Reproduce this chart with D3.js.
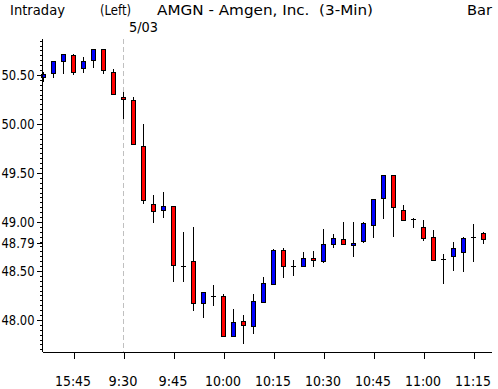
<!DOCTYPE html>
<html>
<head>
<meta charset="utf-8">
<script src="https://cdn.jsdelivr.net/npm/d3@7"></script>
<style>
  html, body { margin: 0; padding: 0; background: #fff; }
  svg { display: block; }
  text { font-family: "DejaVu Sans", sans-serif; fill: #000; }
</style>
</head>
<body>
<svg id="chart" width="498" height="389"></svg>
<script>
// ---- data ----
const times = ["15:36","15:39","15:42","15:45","15:48","15:51","15:54","15:57",
  "9:30","9:33","9:36","9:39","9:42","9:45","9:48","9:51","9:54","9:57",
  "10:00","10:03","10:06","10:09","10:12","10:15","10:18","10:21","10:24","10:27",
  "10:30","10:33","10:36","10:39","10:42","10:45","10:48","10:51","10:54","10:57",
  "11:00","11:03","11:06","11:09","11:12","11:15","11:18"];
const open  = [50.48,50.52,50.64,50.70,50.57,50.65,50.76,50.53,50.28,50.24,49.78,49.18,49.12,49.16,48.55,48.60,48.17,48.24,48.24,47.84,47.99,47.94,48.18,48.37,48.71,48.55,48.55,48.63,48.60,48.78,48.83,48.76,48.81,48.97,49.24,49.48,49.12,49.03,48.95,48.85,48.62,48.65,48.69,48.85,48.89];
const high  = [50.53,50.64,50.71,50.71,50.68,50.77,50.77,50.56,50.33,50.28,50.00,49.27,49.31,49.16,48.90,48.95,48.29,48.36,48.26,48.11,48.05,48.26,48.44,48.72,48.73,48.61,48.69,48.70,48.93,48.88,49.00,49.00,49.00,49.23,49.48,49.48,49.17,49.04,49.02,48.92,48.67,48.80,48.85,48.98,48.90];
const low   = [50.43,50.47,50.51,50.50,50.52,50.57,50.51,50.30,50.05,49.79,49.18,48.99,49.04,48.39,48.39,48.09,48.02,48.14,47.83,47.83,47.75,47.86,48.17,48.36,48.43,48.45,48.54,48.54,48.58,48.73,48.76,48.64,48.79,48.84,49.03,48.85,49.01,48.94,48.81,48.60,48.37,48.50,48.49,48.59,48.78];
const close = [50.51,50.64,50.71,50.53,50.64,50.77,50.55,50.31,50.25,49.80,49.22,49.11,49.16,48.56,48.55,48.17,48.29,48.24,47.84,47.98,47.95,48.19,48.38,48.71,48.55,48.55,48.63,48.61,48.77,48.84,48.77,48.79,48.99,49.23,49.48,49.15,49.02,49.03,48.84,48.61,48.62,48.73,48.84,48.85,48.83];
const yTickValues = [48.00, 48.50, 48.79, 49.00, 49.50, 50.00, 50.50];
const sessionStart = "9:30";
const dateLabel = "5/03";

// ---- layout ----
const svg = d3.select("#chart");
const L = 42, R = 491, T = 39, B = 352;
const x = d3.scaleLinear().domain([-0.1, 44.8]).range([L, R]);
const y = d3.scaleLinear().domain([47.673, 50.867]).range([B, T]);
const px = v => Math.round(x(v));
const py = v => Math.round(y(v));

function label(xp, yp, str, len) {
  return svg.append("text").attr("x", xp).attr("y", yp).attr("font-size", 14)
    .attr("textLength", len).attr("lengthAdjust", "spacingAndGlyphs")
    .style("white-space", "pre").text(str);
}
// title texts
label(10, 15, "Intraday", 55);
label(100, 15, "(Left)", 31);
label(157, 15, "AMGN - Amgen, Inc.  (3-Min)", 216);
label(467, 15, "Bar", 25);

// session separator
const sIdx = times.indexOf(sessionStart);
svg.append("line")
  .attr("x1", px(sIdx) + 0.5).attr("x2", px(sIdx) + 0.5)
  .attr("y1", T).attr("y2", B)
  .attr("stroke", "#c0c0c0").attr("stroke-width", 1).attr("stroke-dasharray", "5,3");
label(px(sIdx) + 6, 32, dateLabel, 29);

// candles
const idx = d3.range(times.length);
const g = svg.append("g").attr("shape-rendering", "crispEdges");
idx.forEach(i => {
  const cx = px(i);
  const yh = py(high[i]), yl = py(low[i]);
  g.append("rect").attr("x", cx).attr("y", yh).attr("width", 1).attr("height", Math.max(1, yl - yh)).attr("fill", "#000");
  if (open[i] === close[i]) {
    g.append("rect").attr("x", cx - 2).attr("y", py(open[i])).attr("width", 5).attr("height", 1).attr("fill", "#000");
  } else {
    const top = py(Math.max(open[i], close[i]));
    const bot = py(Math.min(open[i], close[i]));
    const h = Math.max(3, bot - top + 1);
    g.append("rect").attr("x", cx - 2).attr("y", top).attr("width", 5).attr("height", h).attr("fill", "#000");
    g.append("rect").attr("x", cx - 1).attr("y", top + 1).attr("width", 3).attr("height", h - 2)
      .attr("fill", close[i] > open[i] ? "#0000ff" : "#ff0000");
  }
});

// y axis: minor ticks
const minor = d3.range(47.70, 50.86, 0.05).map(v => +v.toFixed(2));
const yMinor = d3.axisLeft(y).tickValues(minor).tickSize(3).tickFormat("");
svg.append("g").attr("transform", `translate(${L + 0.5},0)`).attr("shape-rendering", "crispEdges").call(yMinor)
  .call(s => s.select(".domain").remove());
// y axis: major ticks + labels
const yAxis = d3.axisLeft(y).tickValues(yTickValues).tickSize(6).tickPadding(2).tickFormat(d3.format(".2f"));
const ya = svg.append("g").attr("transform", `translate(${L + 0.5},0)`).attr("shape-rendering", "crispEdges").call(yAxis);
ya.select(".domain").attr("d", `M0,${T}V${B}`);
ya.selectAll("text").attr("font-size", 14).attr("font-family", null).attr("fill", "#000")
  .attr("textLength", 33).attr("lengthAdjust", "spacingAndGlyphs");
ya.selectAll(".tick line").attr("stroke", "#000");

// x axis
const xTicks = idx.filter(i => +times[i].split(":")[1] % 15 === 0);
const xAxis = d3.axisBottom(x).tickValues(xTicks).tickSize(6).tickFormat(i => times[i]);
const xa = svg.append("g").attr("transform", `translate(0.5,${B + 0.5})`).attr("shape-rendering", "crispEdges").call(xAxis);
xa.select(".domain").attr("d", `M${L},0H${R}`);
xa.selectAll("text").attr("font-size", 14.5).attr("font-family", null).attr("y", 33).attr("dy", 0).attr("fill", "#000")
  .attr("textLength", i => times[i].length === 5 ? 36 : 29).attr("lengthAdjust", "spacingAndGlyphs")
  .attr("dx", -1);
</script>
</body>
</html>
